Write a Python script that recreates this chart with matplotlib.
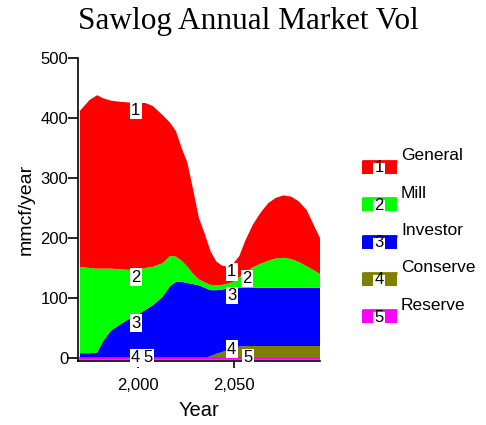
import numpy as np
import matplotlib
matplotlib.use("Agg")
import matplotlib.pyplot as plt
from matplotlib.patches import Rectangle
from matplotlib.ticker import FuncFormatter

plt.rcParams['font.family'] = ['Liberation Sans', 'DejaVu Sans']

# data (mmcf/year, stacked layers)
years = [1970, 1975, 1979, 1982, 1986, 1991, 1995, 2000, 2004, 2008, 2013, 2017,
         2020, 2023, 2026, 2029, 2032, 2035, 2038, 2041, 2044, 2047, 2050, 2053,
         2056, 2060, 2064, 2068, 2072, 2076, 2080, 2084, 2088, 2092, 2095]
reserve = [0] * 35
conserve = [0] * 18 + [3, 7, 10, 13, 16, 19, 20] + [20] * 10
investor = [8, 8, 9, 28, 45, 56, 64, 72, 80, 88, 102, 120, 127, 127, 125, 123,
            121, 117, 110, 106, 104, 103, 101, 98] + [97] * 11
mill = [144, 142, 140, 121, 104, 92, 83, 75, 70, 64, 56, 50, 42, 35, 27, 17, 10,
        9, 9, 8, 8, 8, 10, 18, 26, 34, 40, 45, 49, 50, 48, 43, 36, 29, 23]
general = [260, 280, 289, 284, 280, 279, 279, 278, 275, 268, 247, 222, 209, 188,
           173, 140, 102, 81, 56, 40, 32, 28, 31, 35, 52, 71, 85, 96, 101, 104,
           104, 101, 94, 74, 60]

names = ['General', 'Mill', 'Investor', 'Conserve', 'Reserve']
colors = ['#ff0000', '#00ff00', '#0000ff', '#808000', '#ff00ff']

fig = plt.figure(figsize=(4.86, 4.25), dpi=100)
ax = fig.add_axes([78 / 486, (425 - 361) / 425, 242 / 486, 303 / 425])

x = np.array(years)
layers = [reserve, conserve, investor, mill, general]  # bottom to top
tops = np.cumsum(np.array(layers, dtype=float), axis=0)
ax.stackplot(x, *layers, colors=colors[::-1], linewidth=0)
ax.plot(x, reserve, color='#ff00ff', lw=2, zorder=3)

ax.set_xlim(1969, 2095)
ax.set_ylim(-5, 500)
ax.set_yticks([0, 100, 200, 300, 400, 500])
ax.set_xticks([2000, 2050])
ax.xaxis.set_major_formatter(FuncFormatter(lambda v, p: f'{int(v):,}'))
ax.tick_params(axis='y', length=7, width=1.2, pad=0, labelsize=12)
ax.tick_params(axis='x', length=5, width=1.2, pad=7, labelsize=12)
ax.spines['top'].set_visible(False)
ax.spines['right'].set_visible(False)
ax.spines['left'].set_linewidth(1.2)
ax.spines['bottom'].set_linewidth(1.2)
ax.set_xlabel('Year', fontsize=14.5, labelpad=6)
ax.set_ylabel('mmcf/year', fontsize=14, labelpad=4)

# curve number labels
box = dict(facecolor='white', edgecolor='none', pad=1.0)
label_x = [(1999, 2049), (1999, 2057), (1999, 2049), (1999, 2049), (2005.5, 2057.5)]
for i in range(5):
    lvl = tops[4 - i]
    va = 'top' if i < 3 else 'center'
    for lx in label_x[i]:
        ax.text(lx, np.interp(lx, x, lvl), str(i + 1), ha='center', va=va,
                fontsize=12, bbox=box, zorder=5)

# legend drawn in pixel coordinates
lg = fig.add_axes([0, 0, 1, 1])
lg.set_xlim(0, 486)
lg.set_ylim(425, 0)
lg.axis('off')
for i, (nm, c) in enumerate(zip(names, colors)):
    y0 = 161 + 37.3 * i
    lg.plot([362, 397], [y0, y0], color=c, lw=2, solid_capstyle='butt')
    lg.add_patch(Rectangle((362, y0), 11, 13, facecolor=c, lw=0))
    lg.add_patch(Rectangle((385, y0), 12, 13, facecolor=c, lw=0))
    lg.text(379, y0 + 7, str(i + 1), ha='center', va='center', fontsize=12)
    lg.text(401, y0 - 5, nm, ha='left', va='center', fontsize=12.5)

fig.text(248 / 486, 1 - 22 / 425, 'Sawlog Annual Market Vol', ha='center',
         va='center', fontsize=22.5, family='Liberation Serif')

fig.savefig('out.png', dpi=100)
